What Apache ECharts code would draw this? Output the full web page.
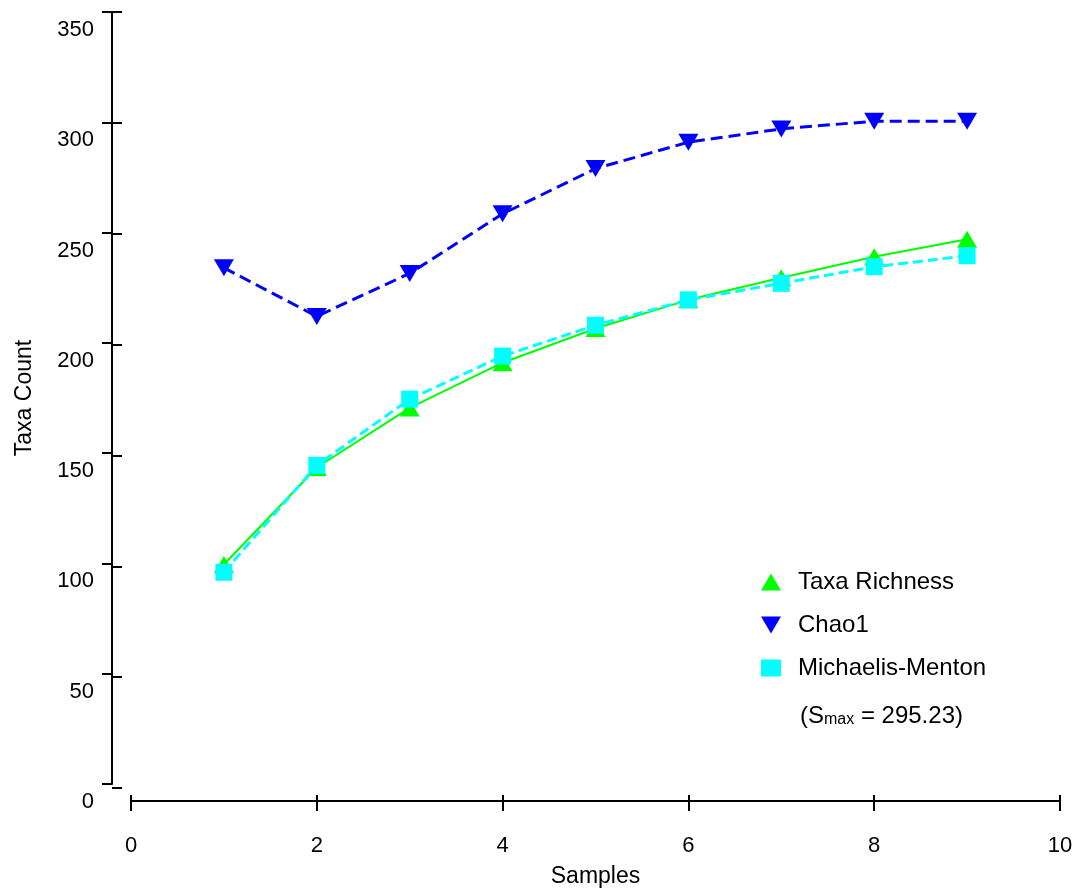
<!DOCTYPE html>
<html>
<head>
<meta charset="utf-8">
<script src="https://cdn.jsdelivr.net/npm/echarts@6/dist/echarts.min.js"></script>
<style>
html,body{margin:0;padding:0;background:#fff;}
#chart{width:1077px;height:893px;}
</style>
</head>
<body>
<div id="chart"></div>
<script>
// ---- data ----
const samples = [1, 2, 3, 4, 5, 6, 7, 8, 9];
const taxaRichness = [99.5, 143.5, 170.5, 191, 206.5, 219.5, 229.5, 239, 247];
const chao1 = [234, 212, 231.5, 258.5, 279, 291, 297, 300.5, 300.5];
const michaelisMenton = [96, 144.5, 174.5, 194, 208, 219.5, 227, 234.5, 239.5];
const seriesNames = ['Taxa Richness', 'Chao1', 'Michaelis-Menton'];
const xAxisTitle = 'Samples';
const yAxisTitle = 'Taxa Count';
const smaxNote = '295.23';

const FONT = "'Liberation Sans', Arial, sans-serif";
const downTri = 'path://M0,0 L20,0 L10,17 Z';

const chart = echarts.init(document.getElementById('chart'), null, {renderer: 'canvas'});

const gridBox = {left: 131, right: 17, top: 12, bottom: 105};

function pair(v) { return samples.map((s, i) => [s, v[i]]); }

const option = {
  animation: false,
  backgroundColor: '#fff',
  textStyle: {fontFamily: FONT},
  grid: [
    Object.assign({}, gridBox),
    Object.assign({}, gridBox)
  ],
  xAxis: [
    {
      gridIndex: 0, type: 'value', min: 0, max: 10, interval: 2,
      position: 'bottom', offset: 17,
      name: xAxisTitle, nameLocation: 'middle', nameGap: 64,
      nameTextStyle: {fontSize: 23, color: '#000', fontFamily: FONT},
      axisLine: {show: true, onZero: false, lineStyle: {color: '#000', width: 2}},
      axisTick: {show: true, inside: false, length: 10, lineStyle: {color: '#000', width: 2}},
      axisLabel: {fontSize: 22, color: '#000', margin: 34, fontFamily: FONT},
      splitLine: {show: false}
    },
    {
      gridIndex: 1, type: 'value', min: 0, max: 10, interval: 2,
      position: 'bottom', offset: 17,
      axisLine: {show: false, onZero: false},
      axisTick: {show: true, inside: true, length: 10, lineStyle: {color: '#000', width: 2}},
      axisLabel: {show: false},
      splitLine: {show: false}
    }
  ],
  yAxis: [
    {
      gridIndex: 0, type: 'value', min: 0, max: 350, interval: 50,
      position: 'left', offset: 19,
      name: yAxisTitle, nameLocation: 'middle', nameGap: 76, nameRotate: 90,
      nameTextStyle: {fontSize: 23, color: '#000', fontFamily: FONT},
      axisLine: {show: true, onZero: false, lineStyle: {color: '#000', width: 2}},
      axisTick: {show: true, inside: false, length: 10, lineStyle: {color: '#000', width: 2}},
      axisLabel: {fontSize: 22, color: '#000', margin: 18, verticalAlign: 'top', lineHeight: 36, fontFamily: FONT},
      splitLine: {show: false}
    },
    {
      gridIndex: 1, type: 'value', min: 0, max: 350, interval: 50,
      position: 'left', offset: 19,
      axisLine: {show: false, onZero: false},
      axisTick: {show: true, inside: true, length: 10, lineStyle: {color: '#000', width: 2}},
      axisLabel: {show: false},
      splitLine: {show: false}
    }
  ],
  legend: {
    orient: 'vertical',
    left: 756, top: 565,
    itemWidth: 20, itemHeight: 17, itemGap: 19,
    selectedMode: false,
    textStyle: {fontSize: 24, color: '#000', fontFamily: FONT, padding: [0, 0, 0, 12]},
    data: [
      {name: seriesNames[0], icon: 'triangle'},
      {name: seriesNames[1], icon: downTri},
      {name: seriesNames[2], icon: 'rect'}
    ]
  },
  graphic: [
    {
      type: 'text', left: 800, top: 704,
      style: {
        text: '(S{sub|max} = ' + smaxNote + ')',
        fontSize: 24, fontFamily: FONT, fill: '#000',
        rich: {sub: {fontSize: 16, fontFamily: FONT, fill: '#000', verticalAlign: 'bottom'}}
      }
    }
  ],
  series: [
    {
      name: seriesNames[0], type: 'line', xAxisIndex: 0, yAxisIndex: 0,
      data: pair(taxaRichness),
      symbol: 'triangle', symbolSize: [20, 17],
      itemStyle: {color: '#00ff00'},
      lineStyle: {color: '#00ff00', width: 2, type: 'solid'},
      z: 2
    },
    {
      name: seriesNames[1], type: 'line', xAxisIndex: 0, yAxisIndex: 0,
      data: pair(chao1),
      symbol: downTri, symbolSize: [20, 17],
      itemStyle: {color: '#0000ff'},
      lineStyle: {color: '#0000ff', width: 3, type: [12, 6]},
      z: 3
    },
    {
      name: seriesNames[2], type: 'line', xAxisIndex: 0, yAxisIndex: 0,
      data: pair(michaelisMenton),
      symbol: 'rect', symbolSize: 17,
      itemStyle: {color: '#00ffff'},
      lineStyle: {color: '#00ffff', width: 3, type: [10, 5]},
      z: 4
    }
  ]
};

chart.setOption(option);
</script>
</body>
</html>
